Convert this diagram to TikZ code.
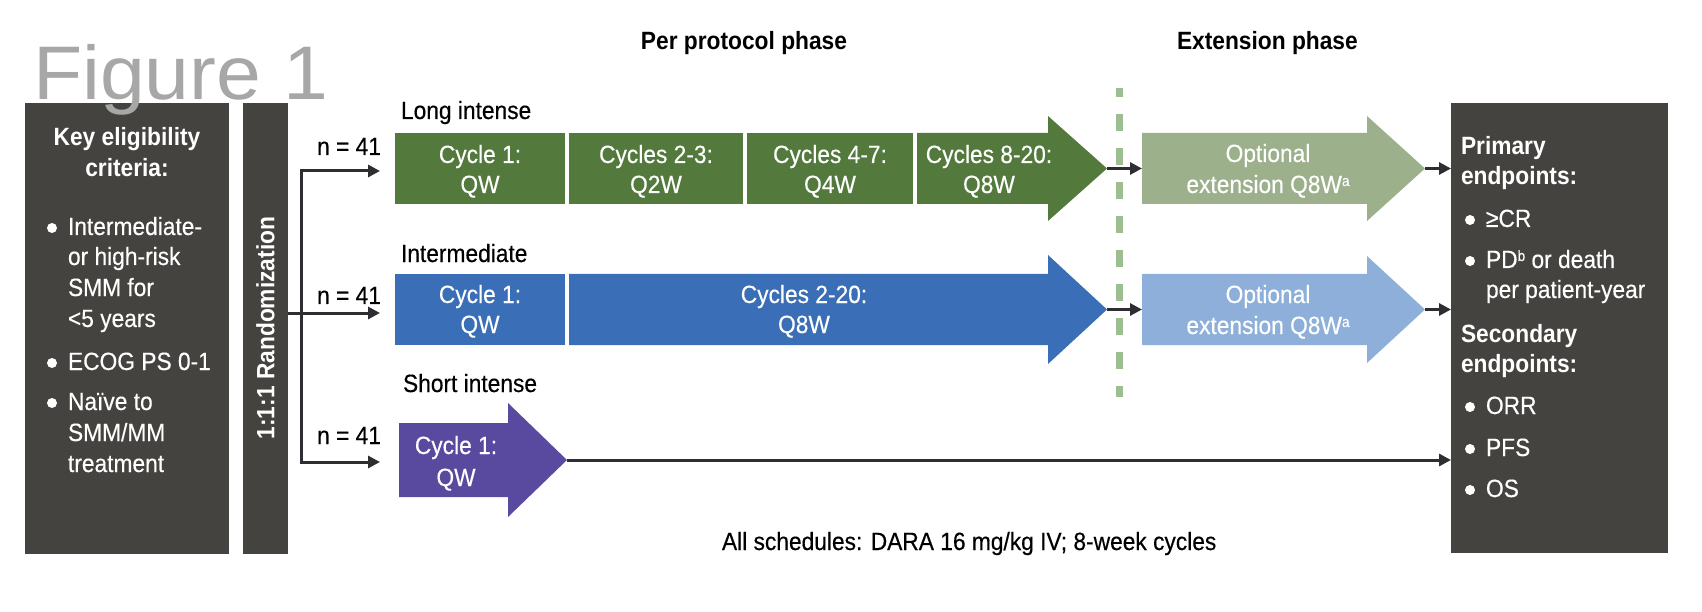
\documentclass[tikz,border=0pt]{standalone}
\usepackage{fontspec}
\setmainfont[FakeStretch=0.91, UprightFeatures={FakeBold=0.35}]{Liberation Sans}
\newfontfamily\figfont[FakeStretch=1.06]{Liberation Sans}
\usetikzlibrary{arrows.meta}
\definecolor{darkbox}{HTML}{454340}
\definecolor{greenA}{HTML}{537A3C}
\definecolor{greenB}{HTML}{9BB08B}
\definecolor{blueA}{HTML}{3A6EB6}
\definecolor{blueB}{HTML}{8DAFD9}
\definecolor{purpA}{HTML}{5A4A9F}
\definecolor{dashcol}{HTML}{9DBE90}
\definecolor{arrowcol}{HTML}{2D2D32}
\definecolor{figgray}{HTML}{A7A7A7}
\newcommand\fsz{\fontsize{25}{30}\selectfont}
\newcommand\supx[1]{\raisebox{7pt}{\fontsize{15}{15}\selectfont #1}}
\tikzset{
  tk/.style={inner sep=0pt, outer sep=0pt, font=\fsz, text=black},
  tkb/.style={inner sep=0pt, outer sep=0pt, font=\fsz\bfseries, text=black},
  tw/.style={inner sep=0pt, outer sep=0pt, font=\fsz, text=white},
  twb/.style={inner sep=0pt, outer sep=0pt, font=\fsz\bfseries, text=white},
  dot/.style={circle, fill=white, draw=none, inner sep=0pt, minimum size=10pt},
  panel/.style={fill=darkbox, draw=none, anchor=north west, inner sep=0pt, outer sep=0pt},
  conn/.style={draw=arrowcol, line width=3pt, line join=miter, -{Triangle[length=12pt,width=12pt]}},
  conntwo/.style={draw=arrowcol, line width=3pt, line join=miter, {Triangle[length=12pt,width=12pt]}-{Triangle[length=12pt,width=12pt]}},
}
\begin{document}
\begin{tikzpicture}[x=1pt,y=-1pt]
\useasboundingbox (0,0) rectangle (1702,612);

% panels
\node[panel, minimum width=204pt, minimum height=451pt] (crit) at (25,103) {};
\node[panel, minimum width=45pt, minimum height=451pt] (rand) at (243,103) {};
\node[panel, minimum width=217pt, minimum height=450pt] (endp) at (1451,103) {};

% phase titles
\node[tkb, anchor=base] (pp) at (744,50) {Per protocol phase};
\node[tkb, anchor=base west] (ep) at (1177,50) {Extension phase};

% dashed separator
\coordinate (dtop) at (1119,88);
\coordinate (dbot) at (1119,397);
\draw[draw=dashcol, line width=7pt, dash pattern=on 17pt off 17pt, dash phase=8pt] (dtop) -- (dbot);

% long intense (green)
\fill[greenA] (395,133) rectangle (565,204);
\fill[greenA] (569,133) rectangle (743,204);
\fill[greenA] (747,133) rectangle (913,204);
\fill[greenA] (917,133) -- (1048,133) -- (1048,116) -- (1107,168.5) -- (1048,221) -- (1048,204) -- (917,204) -- cycle;
\coordinate (gtip) at (1107,168.5);
\fill[greenB] (1142,133) -- (1367,133) -- (1367,116) -- (1425,168.5) -- (1367,221) -- (1367,204) -- (1142,204) -- cycle;
\coordinate (gxL) at (1142,168.5);
\coordinate (gxtip) at (1425,168.5);

% intermediate (blue)
\fill[blueA] (395,274) rectangle (565,345);
\fill[blueA] (569,274) -- (1048,274) -- (1048,255) -- (1107,309.5) -- (1048,364) -- (1048,345) -- (569,345) -- cycle;
\coordinate (btip) at (1107,309.5);
\fill[blueB] (1142,274) -- (1367,274) -- (1367,256) -- (1425,309.5) -- (1367,363) -- (1367,345) -- (1142,345) -- cycle;
\coordinate (bxL) at (1142,309.5);
\coordinate (bxtip) at (1425,309.5);

% short intense (purple)
\fill[purpA] (399,423) -- (508,423) -- (508,403) -- (567,460) -- (508,517) -- (508,497) -- (399,497) -- cycle;
\coordinate (ptip) at (567,460);

% connectors
\draw[conn] (gtip) -- (gxL);
\draw[conn] (btip) -- (bxL);
\draw[conn] (gxtip) -- (gxtip -| endp.west);
\draw[conn] (bxtip) -- (bxtip -| endp.west);
\draw[conn] (ptip) -- (ptip -| endp.west);

% randomization branches
\coordinate (jt) at (301,171);
\coordinate (jm) at (301,313);
\coordinate (jb) at (301,462);
\coordinate (in1) at (380,171);
\coordinate (in2) at (380,313);
\coordinate (in3) at (380,462);
\draw[conntwo] (in1) -- (jt) -- (jb) -- (in3);
\draw[conn] (rand.east |- jm) -- (in2);

% n labels
\node[tk, anchor=base east] (n1) at (381,155) {n = 41};
\node[tk, anchor=base east] (n2) at (381,304) {n = 41};
\node[tk, anchor=base east] (n3) at (381,444) {n = 41};

% row labels
\node[tk, anchor=base west] (lab1) at (401,119) {Long intense};
\node[tk, anchor=base west] (lab2) at (401,262) {Intermediate};
\node[tk, anchor=base west] (lab3) at (403,392) {Short intense};

% green texts
\node[tw, anchor=base] (g1a) at (480,163) {Cycle 1:};
\node[tw, anchor=base] (g1b) at (480,193) {QW};
\node[tw, anchor=base] (g2a) at (656,163) {Cycles 2-3:};
\node[tw, anchor=base] (g2b) at (656,193) {Q2W};
\node[tw, anchor=base] (g3a) at (830,163) {Cycles 4-7:};
\node[tw, anchor=base] (g3b) at (830,193) {Q4W};
\node[tw, anchor=base] (g4a) at (989,163) {Cycles 8-20:};
\node[tw, anchor=base] (g4b) at (989,193) {Q8W};
\node[tw, anchor=base] (gxa) at (1268,162) {Optional};
\node[tw, anchor=base] (gxb) at (1268,193) {extension Q8W\supx{a}};

% blue texts
\node[tw, anchor=base] (b1a) at (480,303) {Cycle 1:};
\node[tw, anchor=base] (b1b) at (480,333) {QW};
\node[tw, anchor=base] (b2a) at (804,303) {Cycles 2-20:};
\node[tw, anchor=base] (b2b) at (804,333) {Q8W};
\node[tw, anchor=base] (bxa) at (1268,303) {Optional};
\node[tw, anchor=base] (bxb) at (1268,334) {extension Q8W\supx{a}};

% purple texts
\node[tw, anchor=base] (p1a) at (456,454) {Cycle 1:};
\node[tw, anchor=base] (p1b) at (456,486) {QW};

% bottom note
\node[tk, anchor=base west] (note) at (722,550) {All schedules: DARA 16 mg/kg IV; 8-week cycles};

% eligibility criteria
\node[twb, anchor=base] (k1) at (127,146) {Key eligibility};
\node[twb, anchor=base] (k2) at (127,177) {criteria:};
\node[dot] (kb1) at (52,228) {};
\node[tw, anchor=base west] (k3) at (68,235) {Intermediate-};
\node[tw, anchor=base west] (k4) at (68,265) {or high-risk};
\node[tw, anchor=base west] (k5) at (68,296) {SMM for};
\node[tw, anchor=base west] (k6) at (68,327) {<5 years};
\node[dot] (kb2) at (52,363) {};
\node[tw, anchor=base west] (k7) at (68,370) {ECOG PS 0-1};
\node[dot] (kb3) at (52,403) {};
\node[tw, anchor=base west] (k8) at (68,410) {Naïve to};
\node[tw, anchor=base west] (k9) at (68,441) {SMM/MM};
\node[tw, anchor=base west] (k10) at (68,472) {treatment};

% randomization label
\node[twb, rotate=90] (rt) at (265.5,328) {1:1:1 Randomization};

% endpoints
\node[twb, anchor=base west] (e1) at (1461,155) {Primary};
\node[twb, anchor=base west] (e2) at (1461,185) {endpoints:};
\node[dot] (eb1) at (1470,220) {};
\node[tw, anchor=base west] (e3) at (1486,227) {≥CR};
\node[dot] (eb2) at (1470,261) {};
\node[tw, anchor=base west] (e4) at (1486,268) {PD\supx{b} or death};
\node[tw, anchor=base west] (e5) at (1486,298) {per patient-year};
\node[twb, anchor=base west] (e6) at (1461,342) {Secondary};
\node[twb, anchor=base west] (e7) at (1461,372) {endpoints:};
\node[dot] (eb3) at (1470,407) {};
\node[tw, anchor=base west] (e8) at (1486,414) {ORR};
\node[dot] (eb4) at (1470,449) {};
\node[tw, anchor=base west] (e9) at (1486,456) {PFS};
\node[dot] (eb5) at (1470,490) {};
\node[tw, anchor=base west] (e10) at (1486,497) {OS};

% figure label
\node[inner sep=0pt, outer sep=0pt, anchor=base west, text=figgray, font=\figfont\fontsize{76}{80}\selectfont] (fig) at (33,100) {Figure 1};
\end{tikzpicture}
\end{document}
